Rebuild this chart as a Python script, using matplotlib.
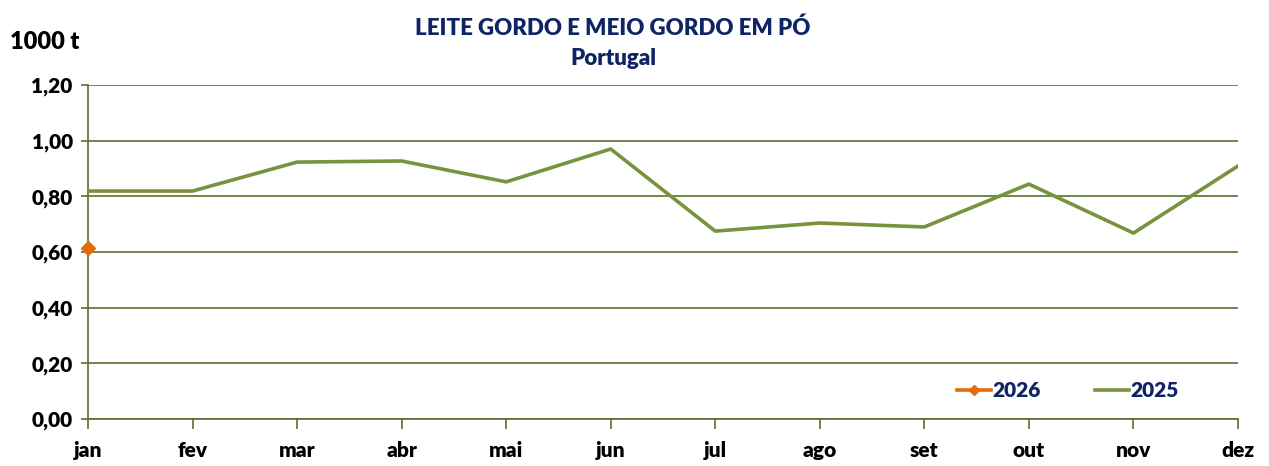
import matplotlib.pyplot as plt
from matplotlib.ticker import FuncFormatter

# data
meses = ['jan', 'fev', 'mar', 'abr', 'mai', 'jun', 'jul', 'ago', 'set', 'out', 'nov', 'dez']
valores_2025 = [0.819, 0.819, 0.923, 0.927, 0.852, 0.970, 0.675, 0.704, 0.690, 0.844, 0.668, 0.909]
valores_2026 = [0.614]

navy = '#0F2465'
grid_col = '#5A7028'
peso = 'heavy'

plt.rcParams['font.family'] = ['Lato', 'DejaVu Sans']
plt.rcParams['font.weight'] = peso

fig = plt.figure(figsize=(12.69, 4.66), dpi=100)
ax = fig.add_axes([88 / 1269, 47 / 466, 1150 / 1269, 334 / 466])

x = list(range(len(meses)))
ax.plot(x, valores_2025, color='#77933C', linewidth=2.6, label='2025', zorder=3)
ax.plot(x[:len(valores_2026)], valores_2026, color='#E36C09', marker='D', markersize=7,
        linewidth=2.6, label='2026', zorder=4, clip_on=False)

ax.set_xlim(0, 11)
ax.set_ylim(0, 1.2)
ax.set_yticks([0, 0.2, 0.4, 0.6, 0.8, 1.0, 1.2])
ax.yaxis.set_major_formatter(FuncFormatter(lambda v, p: f'{v:.2f}'.replace('.', ',')))
ax.set_xticks(x)
ax.set_xticklabels(meses)
ax.grid(axis='y', color=grid_col, linewidth=1.2)
ax.set_axisbelow(True)

for s in ['top', 'right']:
    ax.spines[s].set_visible(False)
for s in ['left', 'bottom']:
    ax.spines[s].set_color(grid_col)
    ax.spines[s].set_linewidth(1.2)
ax.tick_params(axis='both', colors=grid_col, labelcolor='black', labelsize=15, width=1.2)
ax.tick_params(axis='x', length=7, pad=9)
ax.tick_params(axis='y', length=5, pad=6)

handles, labels = ax.get_legend_handles_labels()
leg = ax.legend(handles[::-1], labels[::-1], loc='lower right', bbox_to_anchor=(0.965, 0.0),
                ncol=2, frameon=False, fontsize=15, handlelength=1.6, columnspacing=2.6,
                handletextpad=0.1, markerscale=0.8)
for t in leg.get_texts():
    t.set_color(navy)
    t.set_fontweight(peso)

fig.text(0.483, 0.925, 'LEITE GORDO E MEIO GORDO EM PÓ', ha='center', fontsize=16,
         color=navy, fontweight=peso)
fig.text(0.483, 0.86, 'Portugal', ha='center', fontsize=16, color=navy, fontweight=peso)
fig.text(0.008, 0.895, '1000 t', ha='left', fontsize=17, color='black', fontweight=peso)

fig.savefig('out.png', dpi=100)
